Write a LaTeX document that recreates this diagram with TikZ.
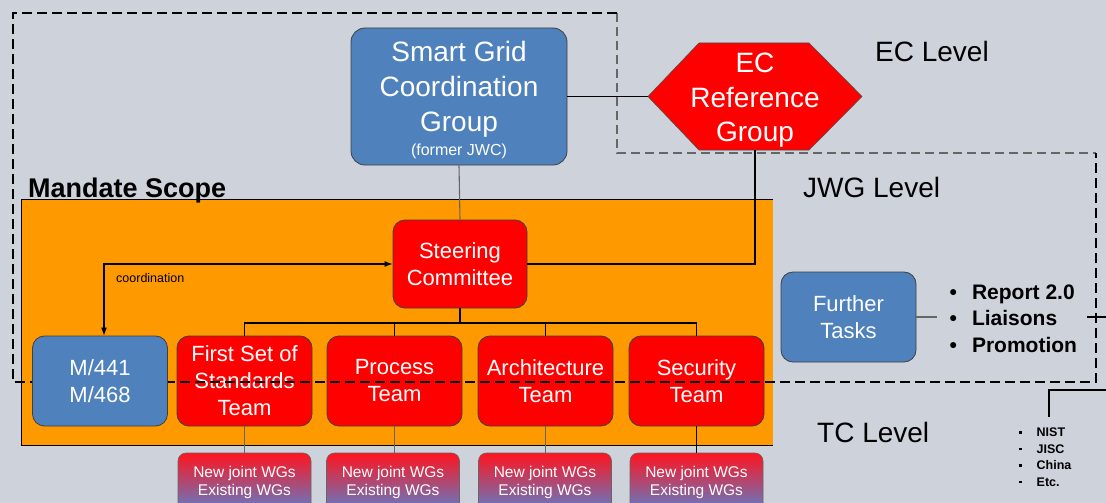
\documentclass[tikz,border=0pt]{standalone}
\usepackage{fontspec}
\setmainfont{Liberation Sans}
\usetikzlibrary{arrows.meta,calc}
\definecolor{bg}{RGB}{205,210,219}
\definecolor{boxblue}{RGB}{79,129,189}
\definecolor{orng}{RGB}{255,153,0}
\definecolor{wgtop}{RGB}{255,20,30}
\definecolor{wgbot}{RGB}{95,125,200}
\newcommand{\fs}[2]{\fontsize{#1}{#2}\selectfont}
\newcommand{\tcbul}{\rule[3pt]{2.5pt}{2.5pt}\hspace{15pt}}
\begin{document}
\begin{tikzpicture}[x=1pt,y=-1pt,
  bluebox/.style={draw=black!75, line width=0.8pt, fill=boxblue, rounded corners=12pt, text=white, align=center, inner sep=0pt},
  redbox/.style={draw=black!75, line width=0.8pt, fill=red, rounded corners=12pt, text=white, align=center, inner sep=0pt},
  teambox/.style={minimum width=135, minimum height=90, font=\fs{22}{27}},
  wgbox/.style={draw=black!60, line width=0.6pt, rounded corners=8pt, top color=wgtop, bottom color=wgbot, minimum width=133, minimum height=58, text=white, align=center, font=\fs{15.5}{18}, inner sep=0pt},
  boxtext/.style={text=white, align=center, inner sep=0pt},
  conn/.style={draw=black, line width=1.1pt},
  gconn/.style={draw=black!60, line width=1.1pt},
  lvl/.style={font=\fs{28}{34}, inner sep=0pt, anchor=base west},
  zone/.style={draw=black, line width=2.2pt, dash pattern=on 10pt off 5pt},
  eczone/.style={draw=black!60, line width=2pt, dash pattern=on 9pt off 5pt},
]
\useasboundingbox (0,0) rectangle (1106,503);
\clip (0,0) rectangle (1106,503);
\fill[bg] (0,0) rectangle (1106,503);

% mandate scope area
\node[fill=orng, minimum width=751, minimum height=245, inner sep=0pt] (mandate) at (397.5,322.5) {};
\draw[black, line width=1.2pt] (mandate.north east) -- (mandate.north west) -- (mandate.south west) -- (mandate.south east);
\node[font=\bfseries\fs{27}{32}, inner sep=0pt, anchor=base west] (mlabel) at (28,197) {Mandate Scope};

% level labels
\node[lvl] (eclvl) at (875,62) {EC Level};
\node[lvl] (jwglvl) at (803,197) {JWG Level};
\node[lvl] (tclvl) at (817,442) {TC Level};

% top boxes
\node[bluebox, minimum width=216, minimum height=137, rounded corners=14pt] (sgcg) at (459,96.5) {};
\node[boxtext, font=\fs{28}{35}] (sgcgtext) at (459,100)
  {Smart Grid\\Coordination\\Group\\[-11pt]{\fs{16}{20}(former JWC)}};
\path[fill=red, draw=black!70, line width=0.6pt] (648,96.5) -- (699,43) -- (809,43) -- (862,96.5) -- (809,150) -- (699,150) -- cycle;
\node[minimum width=214, minimum height=107, inner sep=0pt] (ecrg) at (755,96.5) {};
\node[boxtext, font=\fs{28}{34.5}] (ecrgtext) at (755,100.5) {EC\\Reference\\Group};

\node[redbox, minimum width=134, minimum height=88, font=\fs{22}{27}] (steer) at (460,264) {Steering\\Committee};

% teams
\node[redbox, teambox] (fst) at (244.5,381) {First Set of\\Standards\\Team};
\node[redbox, teambox] (proc) at (394.5,381) {Process\\Team};
\node[redbox, teambox] (arch) at (545.5,381) {Architecture\\Team};
\node[redbox, teambox] (sec) at (696.5,381) {Security\\Team};

\node[bluebox, teambox] (further) at (848.5,317) {Further\\Tasks};

% working groups
\node[wgbox] (wg1) at (244.5,482) {New joint WGs\\Existing WGs};
\node[wgbox] (wg2) at (393,482) {New joint WGs\\Existing WGs};
\node[wgbox] (wg3) at (545,482) {New joint WGs\\Existing WGs};
\node[wgbox] (wg4) at (696.5,482) {New joint WGs\\Existing WGs};

% lists
\node[anchor=west, inner sep=0pt, align=left, font=\bfseries\fs{21}{26.5}] (tasks) at (949.5,318.5)
  {\textbullet\hspace{15pt}Report 2.0\\\textbullet\hspace{15pt}Liaisons\\\textbullet\hspace{15pt}Promotion};
\node[anchor=west, inner sep=0pt, align=left, font=\bfseries\fs{12.5}{16.5}] (tclist) at (1019,457)
  {\tcbul NIST\\\tcbul JISC\\\tcbul China\\\tcbul Etc.};

% level boundaries
\draw[eczone] (617,13) -- (617,153) -- (1096,153);
\draw[zone] (617,13) -- (13,13) -- (13,382) -- (1096,382) -- (1096,153);

% M/441 box lies over the level boundary
\node[bluebox, teambox] (m441) at (100,381) {M/441\\M/468};

% connectors
\draw[conn] (sgcg.east) -- (ecrg.west);
\draw[gconn] (sgcg.south) -- (steer.north);
\draw[conn] (ecrg.south) |- (steer.east);
\draw[conn, {Latex[length=8pt,width=6pt]}-{Latex[length=8pt,width=6pt]}] (steer.west) -| ([xshift=4pt]m441.north);
\node[anchor=base west, inner sep=0pt, font=\fs{12.5}{15}] (coordlbl) at (116,282) {coordination};
\coordinate (bus) at (460,323);
\draw[conn] (steer.south) -- (bus);
\draw[conn] (fst.north) |- (bus) -| (sec.north);
\draw[conn] (proc.north) -- (proc.north |- bus);
\draw[conn] (arch.north) -- (arch.north |- bus);
\draw[gconn] (fst.south) -- (wg1.north -| fst.south);
\draw[gconn] (proc.south) -- (wg2.north -| proc.south);
\draw[gconn] (arch.south) -- (wg3.north -| arch.south);
\draw[conn] (sec.south) -- (wg4.north -| sec.south);
\coordinate (ftend) at (937,317);
\draw[gconn] (further.east) -- (ftend);
\coordinate (tickA) at (1087,317);
\coordinate (tickB) at (1106,317);
\draw[conn] (tickA) -- (tickB);
\coordinate (tcend) at (1049,417);
\coordinate (tcin) at (1106,390);
\draw[conn, line width=1.8pt] (tcend) |- (tcin);
\end{tikzpicture}
\end{document}
